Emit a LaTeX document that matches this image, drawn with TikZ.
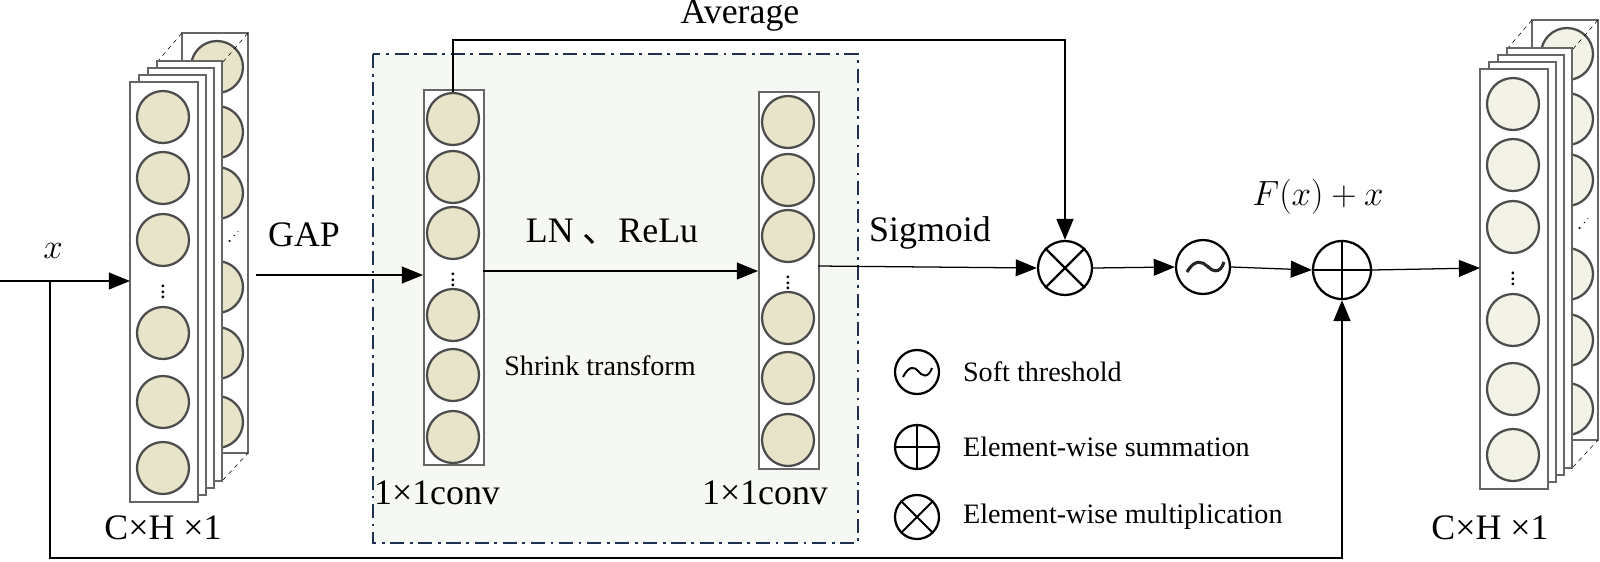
\documentclass[tikz,border=0pt]{standalone}
\usepackage{fontspec}
\setmainfont{Liberation Serif}
\newfontfamily\cjk{Noto Sans CJK SC}
\usetikzlibrary{arrows.meta}

\definecolor{cellin}{HTML}{E8E4C9}
\definecolor{cellout}{HTML}{F3F2E6}
\definecolor{boxline}{HTML}{1F3050}
\definecolor{boxfill}{HTML}{F6F8F4}

\tikzset{%
    cell/.style={circle,draw=black!70,line width=1.6pt,minimum size=52*0.025cm,inner sep=0pt},
    layer/.style={draw=black!60,line width=1.2pt,fill=white},
    op/.style={circle,draw=black,line width=1.6pt,minimum size=#1*0.025cm,inner sep=0pt},
    op/.default=54,
    flow/.style={-{Triangle[length=15pt,width=12pt]},line width=0.9pt},
    lbl/.style={font=\fontsize{25.5}{28}\selectfont},
    small/.style={font=\fontsize{20}{23}\selectfont},
    vdot/.style={inner sep=0pt,font=\bfseries\fontsize{12}{12}\selectfont},
}

%\featstack{x}{y}{fill}{name}  -- x,y = top left of the front sheet
\newcommand*{\featstack}[4]{%
	\draw [layer] (#1+52,#2-49) rectangle (#1+118,#2+371);
	\foreach \cy in {-15,50,111,205,271,340}
		\node [cell,fill=#3] at (#1+87,#2+\cy) {};
	\node [inner sep=0pt,font=\fontsize{14}{14}\selectfont] at (#1+104,#2+156) {$\cdot^{\cdot^{\cdot}}$};
	\draw [dashed,thin] (#1+27,#2-20) -- (#1+52,#2-49);
	\draw [dashed,thin] (#1+93,#2-20) -- (#1+118,#2-49);
	\draw [dashed,thin] (#1+93,#2+398) -- (#1+118,#2+371);
	\foreach \i in {3,2,1}
		\draw [layer] (#1+9*\i,#2-7*\i) rectangle (#1+68+8*\i,#2+420-7*\i);
	\draw [layer] (#1,#2) rectangle (#1+68,#2+420);
	\coordinate (#4) at (#1,#2+199);
	\coordinate (#4r) at (#1+126,#2+193);
	\foreach \cy in {35,96,158,251,320,386}
		\node [cell,fill=#3] at (#1+33,#2+\cy) {};
	\node [vdot] at (#1+33,#2+206) {$\vdots$};
}

\begin{document}
\begin{tikzpicture}[x=0.025cm,y=-0.025cm]
\useasboundingbox (0,0) rectangle (1600,561);

% shrink block
\draw [boxline,fill=boxfill,line width=1.4pt,dash pattern=on 10pt off 4pt on 2pt off 4pt] (373,54) rectangle (858,543);

% input / output stacks
\featstack{130}{82}{cellin}{xin}
\featstack{1480}{69}{cellout}{xout}

% 1x1 conv columns
\node [layer,minimum width=60*0.025cm,minimum height=375*0.025cm,anchor=north west,inner sep=0pt] (ca) at (423,89) {};
\node [layer,minimum width=60*0.025cm,minimum height=377*0.025cm,anchor=north west,inner sep=0pt] (cb) at (758,91) {};
\foreach \cy [count=\k] in {119,177,233,315,375,437} {
	\node [cell,fill=cellin] (ca\k) at (453,\cy) {};
	\node [cell,fill=cellin] (cb\k) at (788,\cy+3) {};
}
\node [vdot] at (453,276) {$\vdots$};
\node [vdot] at (788,279) {$\vdots$};

% operators
\node [op] (mul) at (1065,268) {};
\draw [line width=1.6pt] (mul.north east) -- (mul.south west) (mul.north west) -- (mul.south east);
\node [op] (soft) at (1203,267) {};
\draw [line width=2.2pt,black!85] (1187,272) .. controls (1195,258) and (1203,262) .. (1207,266) .. controls (1212,271) and (1220,275) .. (1224,262);
\node [op=58] (add) at (1342,270) {};
\draw [line width=1.6pt] (add.north) -- (add.south) (add.west) -- (add.east);

% connectors
\coordinate (xs) at (0,281);
\coordinate (xb) at (50,281);
\coordinate (ln) at (483,271);
\coordinate (lnend) at (758,271);
\coordinate (sg) at (818,266);
\coordinate (avg) at (1065,40);
\coordinate (skip) at (1342,558);
\draw [flow] (xs) -- (xin);
\draw [flow] (xinr) -- (xinr -| ca.west);
\draw [flow] (ln) -- (lnend);
\draw [flow] (sg) -- (mul.west);
\draw [flow] (mul.east) -- (soft.west);
\draw [flow] (soft.east) -- (add.west);
\draw [flow] (add.east) -- (xout);
\draw [flow,line width=1.6pt] (ca1.north) |- (avg) -- (mul.north);
\draw [flow,line width=1.6pt] (xb) |- (skip) -- (add.south);

% labels
\node [lbl] at (53,251) {$x$};
\node [lbl] at (304,235) {GAP};
\node [lbl] at (612,232) {LN {\cjk 、}ReLu};
\node [lbl] at (930,233) {Sigmoid};
\node [lbl] at (740,16) {Average};
\node [lbl] at (1318,197) {$F(x)+x$};
\node [small] at (600,366) {Shrink transform};
\node [lbl] at (437,493) {1×1conv};
\node [lbl] at (765,493) {1×1conv};
\node [lbl] at (163,528) {C×H ×1};
\node [lbl] at (1490,528) {C×H ×1};

% legend
\node [op=44] (ls) at (917,372) {};
\draw [line width=1.4pt] (903,377) .. controls (909,365) and (915,367) .. (918,371) .. controls (922,376) and (928,379) .. (932,368);
\node [op=44] (la) at (917,447) {};
\draw [line width=1.4pt] (la.north) -- (la.south) (la.west) -- (la.east);
\node [op=44] (lm) at (917,517) {};
\draw [line width=1.4pt] (lm.north east) -- (lm.south west) (lm.north west) -- (lm.south east);
\node [small,anchor=west] at (ls.east) [xshift=18*0.025cm] {Soft threshold};
\node [small,anchor=west] at (la.east) [xshift=18*0.025cm] {Element-wise summation};
\node [small,anchor=west] at (lm.east) [xshift=18*0.025cm] {Element-wise multiplication};

\end{tikzpicture}
\end{document}
